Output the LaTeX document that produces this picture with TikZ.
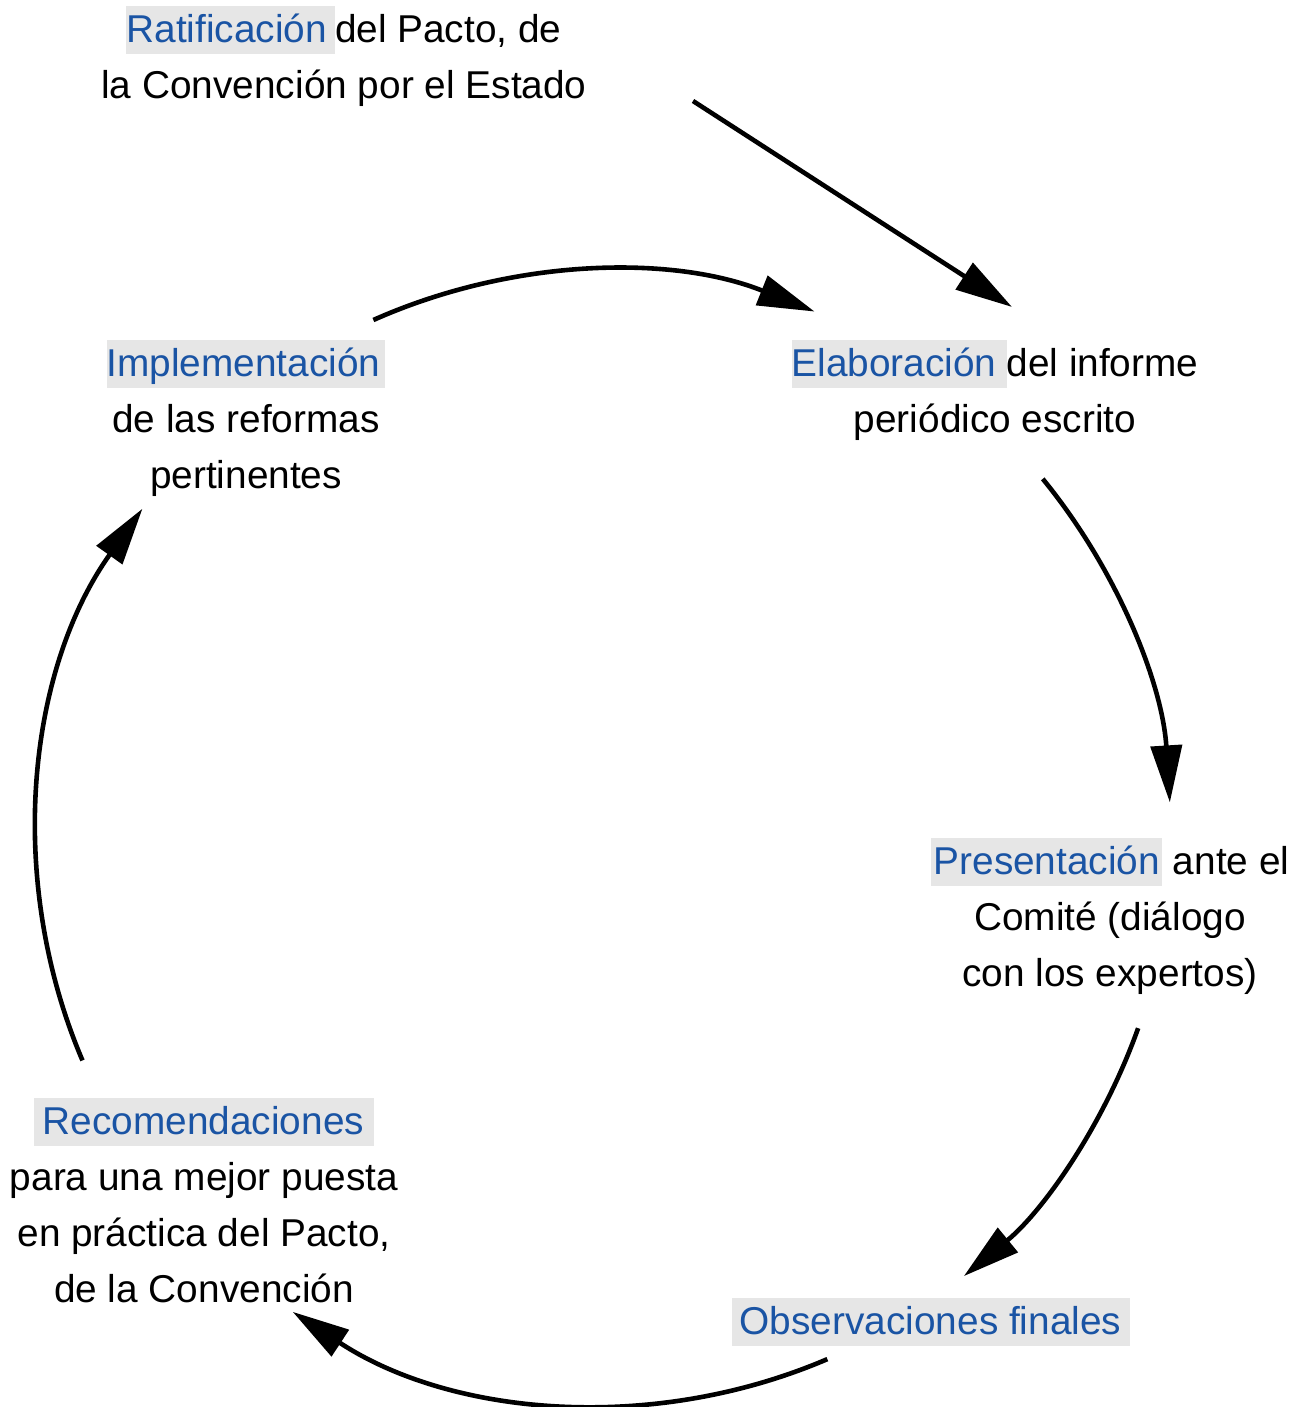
\documentclass[tikz,border=0pt]{standalone}
\usepackage{fontspec}
\setmainfont{Liberation Sans}
\usetikzlibrary{arrows.meta,calc}
\definecolor{hlblue}{HTML}{1A54A4}
\definecolor{hlgray}{HTML}{E6E6E6}
\newcommand\hlword[3]{{\setlength\fboxsep{0pt}\colorbox{hlgray}{\hspace*{#1}\rule[-11.5pt]{0pt}{47.5pt}\textcolor{hlblue}{#2}\hspace*{#3}}}}
\tikzset{
  lbl/.style={anchor=north, inner sep=0pt, align=center, font=\fontsize{38.8pt}{56pt}\selectfont},
  arr/.style={line width=4.6pt, -{Triangle[length=57pt,width=31pt]}}
}
\begin{document}
\begin{tikzpicture}[x=1pt,y=1pt]
\useasboundingbox (0,0) rectangle (1302,1407);
% text nodes (y = 1407 - top)
\node[lbl] (rat) at (344,1401) {\hlword{0pt}{Ratificación}{8pt}del Pacto, de\\la Convención por el Estado};
\node[lbl] (ela) at (995,1067) {\hlword{0pt}{Elaboración}{10pt}del informe\\periódico escrito};
\node[lbl] (imp) at (246,1067) {\hlword{0pt}{Implementación}{5pt}\\de las reformas\\pertinentes};
\node[lbl] (pre) at (1110,569) {\hlword{3pt}{Presentación}{2pt} ante el\\Comité (diálogo\\con los expertos)};
\node[lbl] (obs) at (931,109) {\hlword{8pt}{Observaciones finales}{9pt}};
\node[lbl] (rec) at (204,309) {\hlword{9pt}{Recomendaciones}{10pt}\\para una mejor puesta\\en práctica del Pacto,\\de la Convención};
% circle centre
\coordinate (C) at (604,569);
\def\R{567pt}
\coordinate (a1s) at (693,1306);
\coordinate (a1e) at (1012,1100);
\coordinate (a2s) at ($(C)+(114:\R)$);
\coordinate (a3s) at ($(C)+(39.3:\R)$);
\coordinate (a4s) at ($(C)+(-19.6:\R)$);
\coordinate (a5s) at ($(C)+(-66.8:\R)$);
\coordinate (a6s) at ($(C)+(203.1:\R)$);
\draw[arr] (a1s) -- (a1e);
\draw[arr] (a2s) arc[start angle=114, end angle=68.2, radius=\R];
\draw[arr] (a3s) arc[start angle=39.3, end angle=3.6, radius=\R];
\draw[arr] (a4s) arc[start angle=-19.6, end angle=-50.6, radius=\R];
\draw[arr] (a5s) arc[start angle=-66.8, end angle=-123.3, radius=\R];
\draw[arr] (a6s) arc[start angle=203.1, end angle=144.5, radius=\R];
\end{tikzpicture}
\end{document}
